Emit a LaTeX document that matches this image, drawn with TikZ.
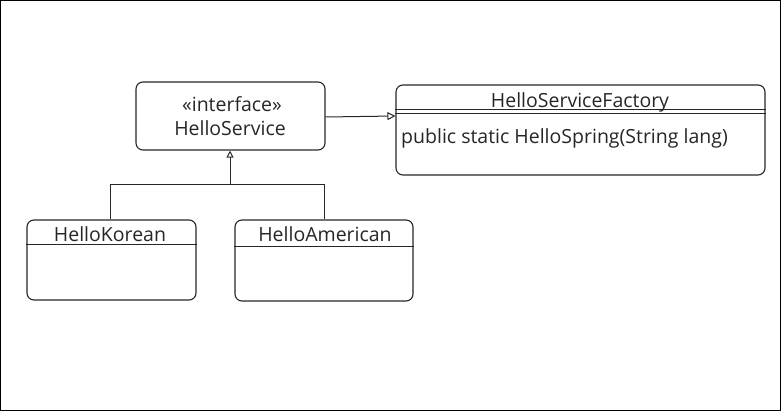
\documentclass[tikz,border=0pt]{standalone}
\usepackage{fontspec}
\setmainfont{Open Sans}
\usetikzlibrary{calc,arrows.meta}
\begin{document}
\begin{tikzpicture}[x=1pt,y=-1pt,
  frame/.style={draw=black, line width=1pt},
  classbox/.style={draw=black!85, line width=1.1pt, rounded corners=7pt, inner sep=0pt},
  label/.style={font=\fontsize{19.5}{22}\selectfont, inner sep=0pt, text=black!85},
  conn/.style={draw=black!85, line width=1pt}
]
\useasboundingbox (0,0) rectangle (781,411);
\draw[frame] (0.8,0.8) rectangle (780.2,410.2);

% HelloService
\node[classbox, minimum width=189pt, minimum height=68pt] (hs) at (230.5,116) {};
\node[label] (hsst) at (232,104) {«interface»};
\node[label] (hsname) at (230,128) {HelloService};

% Factory
\node[classbox, minimum width=369pt, minimum height=90pt] (hf) at (580.5,130) {};
\draw[conn] ($(hf.north west)+(0,25)$) -- ($(hf.north east)+(0,25)$);
\draw[conn] ($(hf.north west)+(0,29)$) -- ($(hf.north east)+(0,29)$);
\node[label] (hftitle) at (580,103) {\underline{HelloServiceFactory}};
\node[label, anchor=west] (hfop) at (401,138) {public static HelloSpring(String lang)};

% HelloKorean
\node[classbox, minimum width=169pt, minimum height=80pt] (hk) at (111.5,260) {};
\draw[conn] ($(hk.north west)+(0,25)$) -- ($(hk.north east)+(0,25)$);
\node[label] (hkname) at (110,234) {HelloKorean};

% HelloAmerican
\node[classbox, minimum width=178pt, minimum height=81pt] (ha) at (324,260.5) {};
\draw[conn] ($(ha.north west)+(0,27)$) -- ($(ha.north east)+(0,27)$);
\node[label] (haname) at (325,234) {HelloAmerican};

% connectors
\coordinate (j) at (230,185);
\draw[conn] (hk.north -| 110,0) |- (j);
\draw[conn] (ha.north) |- (j);
\draw[conn, -{Triangle[open, length=7pt, width=7pt]}] (j) -- (j |- hs.south);
\draw[conn, -{Triangle[open, length=8pt, width=8pt]}] (hs.east |- 0,117) -- (hf.west |- 0,116);
\end{tikzpicture}
\end{document}
